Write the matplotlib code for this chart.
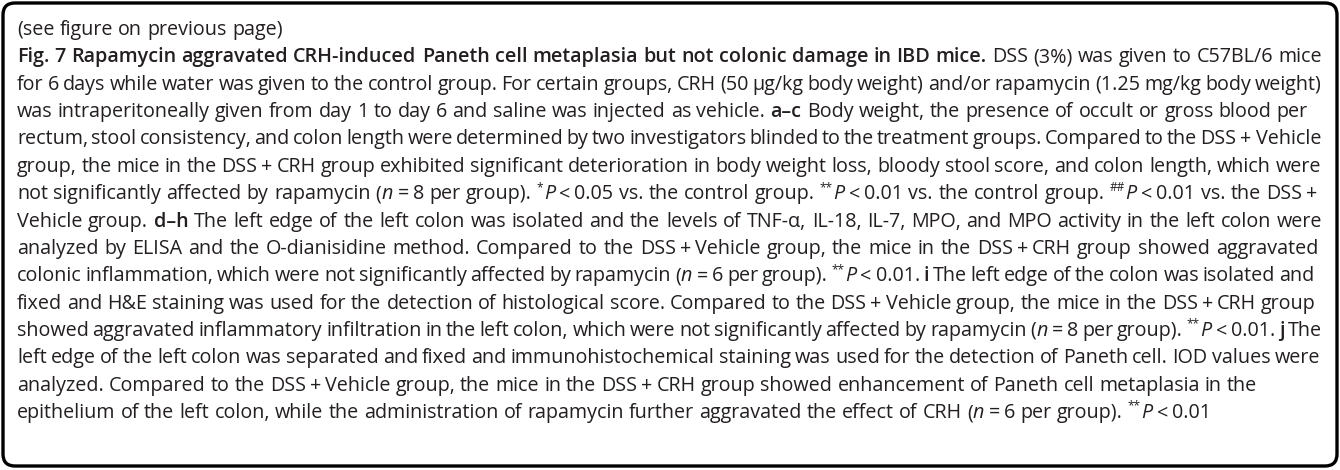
import matplotlib
matplotlib.use("Agg")
import matplotlib.pyplot as plt
from matplotlib.patches import FancyBboxPatch

W, H = 1340, 470
FONT = ["Open Sans", "DejaVu Sans"]
SIZE = 14.2          # points, at dpi 100
INK = "#231f20"

# caption text, one entry per printed line
# markup: {bold}  [italic]  ^superscript^  ~ = thin, non-stretching gap
caption_lines = [
    "(see figure on previous page)",
    "{Fig. 7 Rapamycin aggravated CRH-induced Paneth cell metaplasia but not colonic damage in IBD mice.} DSS (3%) was given to C57BL/6 mice",
    "for 6 days while water was given to the control group. For certain groups, CRH (50 μg/kg body weight) and/or rapamycin (1.25 mg/kg body weight)",
    "was intraperitoneally given from day 1 to day 6 and saline was injected as vehicle. {a–c} Body weight, the presence of occult or gross blood per",
    "rectum, stool consistency, and colon length were determined by two investigators blinded to the treatment groups. Compared to the DSS~+~Vehicle",
    "group, the mice in the DSS~+~CRH group exhibited significant deterioration in body weight loss, bloody stool score, and colon length, which were",
    "not significantly affected by rapamycin ([n]~=~8 per group). ^*^[P]~<~0.05 vs. the control group. ^**^[P]~<~0.01 vs. the control group. ^##^[P]~<~0.01 vs. the DSS~+",
    "Vehicle group. {d–h} The left edge of the left colon was isolated and the levels of TNF-α, IL-18, IL-7, MPO, and MPO activity in the left colon were",
    "analyzed by ELISA and the O-dianisidine method. Compared to the DSS~+~Vehicle group, the mice in the DSS~+~CRH group showed aggravated",
    "colonic inflammation, which were not significantly affected by rapamycin ([n]~=~6 per group). ^**^[P]~<~0.01. {i} The left edge of the colon was isolated and",
    "fixed and H&E staining was used for the detection of histological score. Compared to the DSS~+~Vehicle group, the mice in the DSS~+~CRH group",
    "showed aggravated inflammatory infiltration in the left colon, which were not significantly affected by rapamycin ([n]~=~8 per group). ^**^[P]~<~0.01. {j} The",
    "left edge of the left colon was separated and fixed and immunohistochemical staining was used for the detection of Paneth cell. IOD values were",
    "analyzed. Compared to the DSS~+~Vehicle group, the mice in the DSS~+~CRH group showed enhancement of Paneth cell metaplasia in the",
    "epithelium of the left colon, while the administration of rapamycin further aggravated the effect of CRH ([n]~=~6 per group). ^**^[P]~<~0.01",
]

# layout: where each line stops on the right (None = natural word spacing)
line_ends = [None, 1322, 1322, 1308, 1321, 1321, 1317, 1322, 1318, 1314, 1316, 1322, 1320, 1257, None]

X0 = 17
BASE0 = 35
PITCH = 27.36


def parse(line):
    """Split a marked-up line into words -> chunks -> styled pieces."""
    words = []
    word = [[]]
    state = {"bold": False, "ital": False, "sup": False}
    buf = []

    def flush():
        if buf:
            word[-1].append(("".join(buf), state["bold"], state["ital"], state["sup"]))
            buf.clear()

    for ch in line:
        if ch in "{}[]^~ ":
            flush()
            if ch == "{":
                state["bold"] = True
            elif ch == "}":
                state["bold"] = False
            elif ch == "[":
                state["ital"] = True
            elif ch == "]":
                state["ital"] = False
            elif ch == "^":
                state["sup"] = not state["sup"]
            elif ch == "~":
                word.append([])
            else:
                words.append(word)
                word = [[]]
        else:
            buf.append(ch)
    flush()
    words.append(word)
    return [w for w in words if any(w)]


fig = plt.figure(figsize=(W / 100, H / 100), dpi=100)
ax = fig.add_axes([0, 0, 1, 1])
ax.set_xlim(0, W)
ax.set_ylim(H, 0)
ax.axis("off")

# rounded frame
ax.add_patch(FancyBboxPatch((3, 3), W - 6, H - 7,
                            boxstyle="round,pad=0,rounding_size=12",
                            fc="white", ec="black", lw=2.4, zorder=0))

renderer = fig.canvas.get_renderer()
em = SIZE * 100 / 72


def piece(text, bold, ital, sup):
    return ax.text(0, 0, text, family=FONT, fontsize=SIZE * (0.6 if sup else 1),
                   weight="semibold" if bold else "normal",
                   style="italic" if ital else "normal",
                   color=INK, ha="left", va="baseline")


def ink_width(t):
    return t.get_window_extent(renderer).width


probe = [piece("a a", False, False, False), piece("aa", False, False, False)]
space = ink_width(probe[0]) - ink_width(probe[1])
for p in probe:
    p.remove()
thin = 0.2 * em

for i, line in enumerate(caption_lines):
    y = BASE0 + i * PITCH
    placed = []
    for word in parse(line):
        items = []
        wx = 0.0
        for ci, chunk in enumerate(word):
            if ci:
                wx += thin
            for txt, b, it, sp in chunk:
                t = piece(txt, b, it, sp)
                items.append((t, wx, sp))
                wx += ink_width(t) + (0.5 if it else 0) + (0.5 if sp else 0)
        placed.append((items, wx))

    total = sum(w for _, w in placed)
    end = line_ends[i]
    if end is None or len(placed) < 2:
        gap = space
    else:
        gap = (end - X0 - total) / (len(placed) - 1)

    x = X0
    for items, w in placed:
        for t, off, sp in items:
            t.set_position((x + off, y - (0.42 * em if sp else 0)))
        x += w + gap

fig.savefig("out.png", dpi=100, facecolor="white")
